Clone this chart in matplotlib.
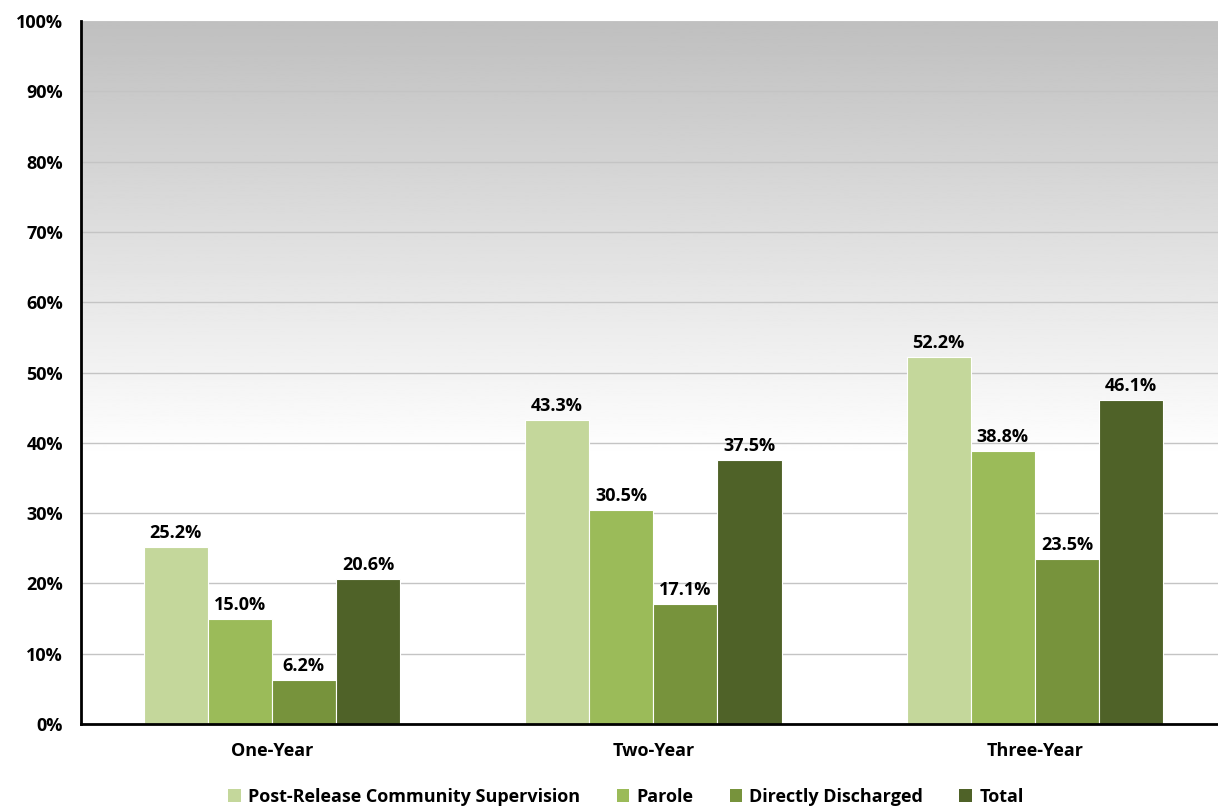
import numpy as np
import matplotlib
matplotlib.use("Agg")
import matplotlib.pyplot as plt
from matplotlib.patches import Patch

periods = ["One-Year", "Two-Year", "Three-Year"]
series = ["Post-Release Community Supervision", "Parole", "Directly Discharged", "Total"]
prcs = [25.2, 43.3, 52.2]
parole = [15.0, 30.5, 38.8]
discharged = [6.2, 17.1, 23.5]
total = [20.6, 37.5, 46.1]
colors = ["#c4d79b", "#9bbb59", "#77933c", "#4f6228"]

plt.rcParams["font.family"] = ["Open Sans", "DejaVu Sans"]
plt.rcParams["font.weight"] = "bold"
FS = 13

W, H = 1218, 809
fig = plt.figure(figsize=(W / 100, H / 100), dpi=100)
ax = fig.add_axes([81 / W, (H - 724) / H, (W - 81) / W, (724 - 21) / H])

# grey at the top fading to white by roughly the 38% line
yy = np.linspace(100, 0, 400)
grad = (0.75 + 0.25 * np.clip((100 - yy) / 62, 0, 1)).reshape(-1, 1)
ax.imshow(grad, cmap="gray", vmin=0, vmax=1, aspect="auto", origin="upper",
          extent=(-0.5, 2.48, 0, 100), zorder=0)

x = np.arange(len(periods))
bw = 0.168
for i, (vals, col) in enumerate(zip([prcs, parole, discharged, total], colors)):
    pos = x + (i - 1.5) * bw
    bars = ax.bar(pos, vals, bw, color=col, edgecolor="white", linewidth=0.8, zorder=3)
    for b, v in zip(bars, vals):
        ax.text(b.get_x() + b.get_width() / 2, v + 0.7, f"{v:.1f}%", ha="center", va="bottom",
                fontsize=FS, fontweight="bold", zorder=4)

ax.set_xlim(-0.5, 2.48)
ax.set_ylim(0, 100)
ax.set_yticks(range(0, 101, 10))
ax.set_yticklabels([f"{t}%" for t in range(0, 101, 10)], fontsize=FS, fontweight="bold")
ax.set_xticks(x)
ax.set_xticklabels(periods, fontsize=FS, fontweight="bold")
ax.tick_params(axis="both", length=0)
ax.tick_params(axis="y", pad=13)
ax.tick_params(axis="x", pad=13)
ax.yaxis.grid(True, color="#c4c4c4", linewidth=1.0, zorder=1)
ax.set_axisbelow(True)
for s in ("top", "right"):
    ax.spines[s].set_visible(False)
for s in ("left", "bottom"):
    ax.spines[s].set_linewidth(2)
    ax.spines[s].set_color("black")
    ax.spines[s].set_zorder(5)

handles = [Patch(facecolor=c, edgecolor="none") for c in colors]
fig.legend(handles, series, loc="center", bbox_to_anchor=(0.514, 12 / H), ncol=4, frameon=False,
           prop={"size": FS, "weight": "bold"}, handlelength=0.7, handleheight=0.7,
           handletextpad=0.4, columnspacing=2.0)

fig.savefig("out.png", dpi=100)
